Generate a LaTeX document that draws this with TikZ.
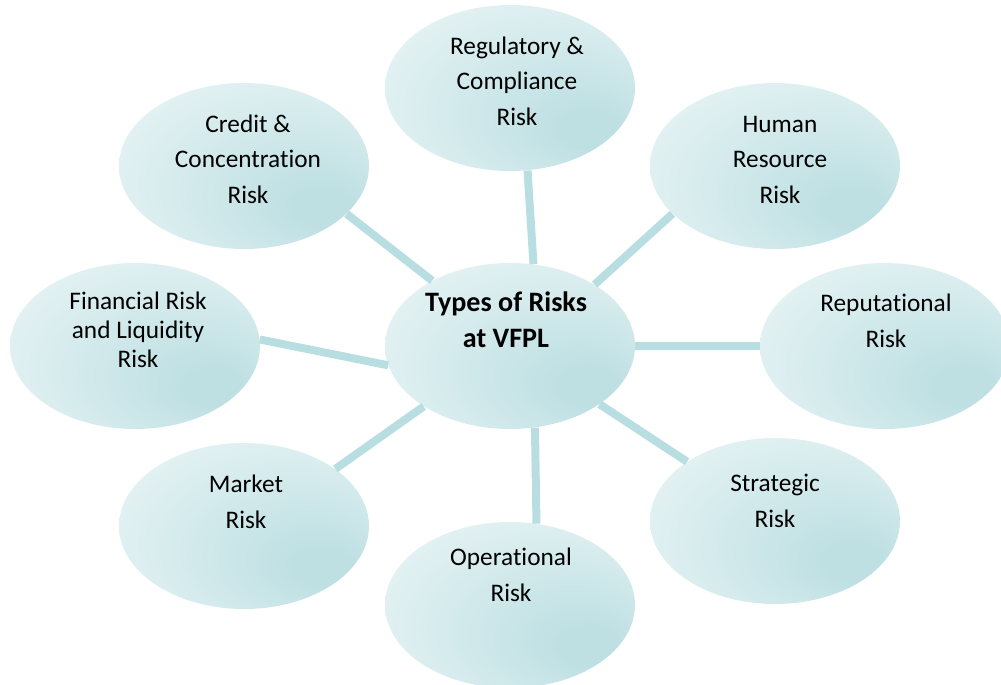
\documentclass[tikz,border=0pt]{standalone}
\usepackage{fontspec}
\setmainfont{Carlito}[Ligatures={TeX,NoCommon}]
\usetikzlibrary{shapes.geometric}
\definecolor{bubblelight}{HTML}{E6F3F4}
\definecolor{bubbledark}{HTML}{BFE0E3}
\definecolor{spokecolor}{HTML}{B8DEE1}
\pgfdeclareradialshading{bubbleshade}{\pgfpoint{18bp}{-14bp}}{%
  color(0bp)=(bubbledark); color(6bp)=(bubbledark);
  color(36bp)=(bubblelight); color(50bp)=(bubblelight)}

\begin{document}
\begin{tikzpicture}[x=0.02cm,y=-0.02cm,
  bubble/.style={ellipse,minimum width=5cm,minimum height=3.32cm,inner sep=0pt,
    shading=bubbleshade},
  risktext/.style={anchor=base,align=center,inner sep=0pt,
    font=\fontsize{14.4}{20}\selectfont},
  spoke/.style={draw=spokecolor,line width=0.16cm}]
 \useasboundingbox (0,0) rectangle (1001,684);
 \clip (0,0) rectangle (1001,684);
 \node[bubble] (types) at (510,346) {};
 \node[bubble] (regulatory) at (510,88) {};
 \node[bubble] (credit) at (244,166) {};
 \node[bubble] (human) at (775,166) {};
 \node[bubble] (financial) at (135,346) {};
 \node[bubble] (reputational) at (885,346) {};
 \node[bubble] (market) at (244,526) {};
 \node[bubble] (strategic) at (775,521) {};
 \node[bubble] (operational) at (510,605) {};
 \draw[spoke] (credit.-25) -- (types.140);
 \draw[spoke] (regulatory.-78) -- (types.74);
 \draw[spoke] (human.205) -- (types.36);
 \draw[spoke] (financial.3) -- (types.189);
 \draw[spoke] (reputational.180) -- (types.0);
 \draw[spoke] (market.32) -- (types.215);
 \draw[spoke] (operational.72) -- (types.-73);
 \draw[spoke] (strategic.146) -- (types.-33);
 % base of a multi-line node is its last line
 \node[risktext,font=\bfseries\fontsize{16}{20}\selectfont] (types-t)
   at ([shift={(-4,1)}]types.center) {Types of Risks\\at VFPL};
 \node[risktext] (regulatory-t) at ([shift={(7,37)}]regulatory.center) {Regulatory \&\\Compliance\\Risk};
 \node[risktext] (credit-t) at ([shift={(4,37)}]credit.center) {Credit \&\\Concentration\\Risk};
 \node[risktext] (human-t) at ([shift={(5,37)}]human.center) {Human\\Resource\\Risk};
 \node[risktext,font=\fontsize{14.4}{16.5}\selectfont] (financial-t)
   at ([shift={(3,21)}]financial.center) {Financial Risk\\and Liquidity\\Risk};
 \node[risktext] (reputational-t) at ([shift={(1,1)}]reputational.center) {Reputational\\Risk};
 \node[risktext] (market-t) at ([shift={(2,2)}]market.center) {Market\\Risk};
 \node[risktext] (strategic-t) at ([shift={(0,6)}]strategic.center) {Strategic\\Risk};
 \node[risktext] (operational-t) at ([shift={(1,-4)}]operational.center) {Operational\\Risk};
\end{tikzpicture}
\end{document}
